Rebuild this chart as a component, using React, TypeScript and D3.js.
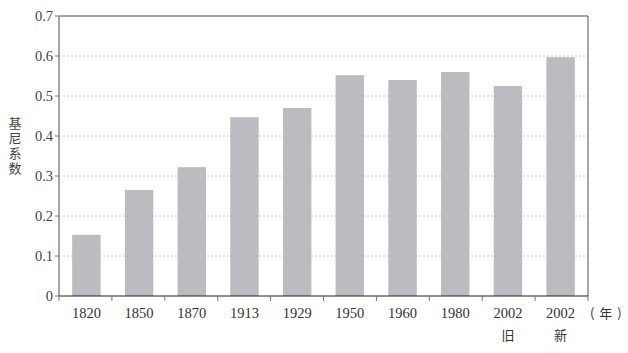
import { useEffect, useRef } from 'react';
import * as d3 from 'd3';

const years = ['1820', '1850', '1870', '1913', '1929', '1950', '1960', '1980', '2002', '2002'];
const subLabels = ['', '', '', '', '', '', '', '', '旧', '新'];
const gini = [0.153, 0.265, 0.322, 0.447, 0.47, 0.552, 0.54, 0.56, 0.525, 0.597];
const yTicks = [0, 0.1, 0.2, 0.3, 0.4, 0.5, 0.6, 0.7];

const width = 628;
const height = 353;

export default function App() {
  const svgRef = useRef<SVGSVGElement>(null);

  useEffect(() => {
    if (!svgRef.current) return;
    const svg = d3.select(svgRef.current);
    svg.selectAll('*').remove();

    const left = 59, right = 588, top = 16, bottom = 296;
    const idx = years.map((_, i) => String(i));
    const x = d3.scaleBand().domain(idx).range([left, right]).paddingInner(0.46).paddingOuter(0.25);
    const y = d3.scaleLinear().domain([0, 0.7]).range([bottom, top]);
    const font = '"Liberation Serif", "DejaVu Serif", serif';
    const cjk = '"Noto Sans CJK SC", sans-serif';

    // grid
    svg.append('g')
      .selectAll('line')
      .data(yTicks.filter(t => t > 0 && t < 0.7))
      .enter()
      .append('line')
      .attr('x1', left)
      .attr('x2', right)
      .attr('y1', d => y(d))
      .attr('y2', d => y(d))
      .attr('stroke', '#c8c8c8')
      .attr('stroke-width', 1)
      .attr('stroke-dasharray', '2,2');

    // bars
    svg.append('g')
      .selectAll('rect')
      .data(gini)
      .enter()
      .append('rect')
      .attr('x', (_, i) => x(String(i))!)
      .attr('width', x.bandwidth())
      .attr('y', d => y(d))
      .attr('height', d => bottom - y(d))
      .attr('fill', '#bcbcc0');

    // frame
    svg.append('line').attr('x1', left).attr('x2', right).attr('y1', top).attr('y2', top)
      .attr('stroke', '#8a8a8a').attr('stroke-width', 1.5);
    svg.append('line').attr('x1', left).attr('x2', left).attr('y1', top).attr('y2', bottom)
      .attr('stroke', '#8a8a8a').attr('stroke-width', 1.5);
    svg.append('line').attr('x1', right).attr('x2', right).attr('y1', top).attr('y2', bottom)
      .attr('stroke', '#555').attr('stroke-width', 1);
    svg.append('line').attr('x1', left).attr('x2', right).attr('y1', bottom).attr('y2', bottom)
      .attr('stroke', '#222').attr('stroke-width', 1.2);

    // y ticks
    const yg = svg.append('g');
    yg.selectAll('line')
      .data(yTicks)
      .enter()
      .append('line')
      .attr('x1', left - 4)
      .attr('x2', left)
      .attr('y1', d => y(d))
      .attr('y2', d => y(d))
      .attr('stroke', '#777');
    yg.selectAll('text')
      .data(yTicks)
      .enter()
      .append('text')
      .attr('x', left - 6)
      .attr('y', d => y(d) + 5)
      .attr('text-anchor', 'end')
      .attr('font-family', font)
      .attr('font-size', 14.5)
      .attr('fill', '#444')
      .text(d => (d === 0 ? '0' : d3.format('.1f')(d)));

    // x tick marks at band boundaries
    const bounds = d3.range(0, years.length + 1).map(i => left + i * (right - left) / years.length);
    svg.append('g')
      .selectAll('line')
      .data(bounds)
      .enter()
      .append('line')
      .attr('x1', d => d)
      .attr('x2', d => d)
      .attr('y1', bottom)
      .attr('y2', bottom + 5)
      .attr('stroke', '#777');

    // x labels
    const xg = svg.append('g');
    xg.selectAll('text.yr')
      .data(years)
      .enter()
      .append('text')
      .attr('class', 'yr')
      .attr('x', (_, i) => x(String(i))! + x.bandwidth() / 2)
      .attr('y', 318)
      .attr('text-anchor', 'middle')
      .attr('font-family', font)
      .attr('font-size', 14.5)
      .attr('fill', '#333')
      .text(d => d);
    xg.selectAll('text.sub')
      .data(subLabels)
      .enter()
      .append('text')
      .attr('class', 'sub')
      .attr('x', (_, i) => x(String(i))! + x.bandwidth() / 2)
      .attr('y', 340)
      .attr('text-anchor', 'middle')
      .attr('font-family', cjk)
      .attr('font-size', 13)
      .attr('fill', '#333')
      .text(d => d);

    // unit "（年）"
    svg.append('text')
      .attr('x', 590)
      .attr('y', 318)
      .attr('font-family', cjk)
      .attr('font-size', 13)
      .attr('fill', '#333')
      .attr('letter-spacing', 1)
      .text('( 年 )');

    // y axis title, vertical
    svg.append('text')
      .attr('x', 15)
      .attr('y', 117)
      .attr('font-family', cjk)
      .attr('font-size', 13)
      .attr('fill', '#444')
      .attr('letter-spacing', 2)
      .style('writing-mode', 'vertical-rl')
      .style('text-orientation', 'upright')
      .text('基尼系数');
  }, []);

  return (
    <div style={{ width: `${width}px`, height: `${height}px` }}>
      <svg ref={svgRef} width={width} height={height} style={{ position: 'absolute', left: 0, top: 0 }}></svg>
    </div>
  );
}
